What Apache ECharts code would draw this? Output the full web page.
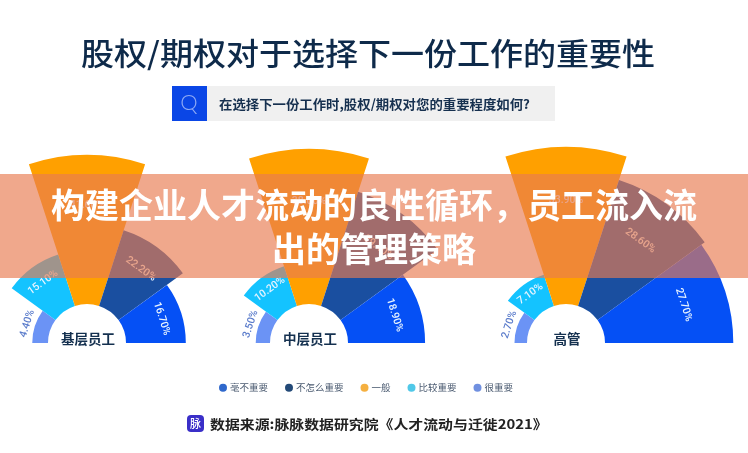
<!DOCTYPE html>
<html><head><meta charset="utf-8">
<style>html,body{margin:0;padding:0;background:#fff}#c{width:748px;height:453px}</style>
<script src="https://cdn.jsdelivr.net/npm/echarts@6/dist/echarts.min.js"></script>
</head><body><div id="c"></div>
<script>
const levels = ['很重要','比较重要','一般','不怎么重要','毫不重要'];
const legendOrder = ['毫不重要','不怎么重要','一般','比较重要','很重要'];
const groups = ['基层员工','中层员工','高管'];
const valuesJunior = [4.4,15.1,41.6,22.2,16.7];
const valuesMiddle = [3.5,10.2,38.0,29.4,18.9];
const valuesSenior = [2.7,7.1,33.9,28.6,27.7];
const allValues = [valuesJunior,valuesMiddle,valuesSenior];
const colors = ['#6B93F5','#14C3FF','#FFA000','#1A4FA0','#0550F5'];
const legendColors = {'毫不重要':'#2F68CC','不怎么重要':'#234A78','一般':'#F5B040','比较重要':'#50C8E8','很重要':'#7090E0'};
const rotationsDeg = [72,36,0,-36,-72];
const centersX = [87,309,566];
const outerR = [188,194,196];
const innerR = 39;
const font = '"Noto Sans CJK SC"';
const headline = ['构建企业人才流动的良性循环，员工流入流','出的管理策略'];
const mainTitle = '股权/期权对于选择下一份工作的重要性';
const question = '在选择下一份工作时,股权/期权对您的重要程度如何?';
const source = '数据来源:脉脉数据研究院《人才流动与迁徙2021》';

const polar=[],angleAxis=[],radiusAxis=[],series=[];
groups.forEach((g,gi)=>{
  polar.push({center:[centersX[gi],343],radius:[innerR,outerR[gi]]});
  angleAxis.push({polarIndex:gi,type:'category',data:levels,startAngle:180,endAngle:0,show:false,clockwise:true});
  radiusAxis.push({polarIndex:gi,type:'value',min:0,max:'dataMax',show:false});
  levels.forEach((lv,li)=>{
    const v=allValues[gi][li];
    const r=innerR+(outerR[gi]-innerR)*v/Math.max(...allValues[gi]);
    series.push({
      type:'bar',name:lv,coordinateSystem:'polar',polarIndex:gi,stack:'g'+gi,barWidth:'100%',
      data:levels.map((_,k)=>k===li?v:null),
      itemStyle:{color:colors[li]},
      label:{show:true,position:'insideEnd',distance:v<5?-8:(r-innerR)*0.34,rotate:rotationsDeg[li]*Math.PI/180,
        align:'center',verticalAlign:'middle',
        formatter:p=>p.value==null?'':p.value.toFixed(2)+'%',
        color:v<5?'#5B7CCB':'#E8F4FF',fontFamily:'Roboto',fontSize:10.5,fontWeight:500}
    });
  });
});

const graphic=[
  {type:'text',z:5,x:81,y:53,scaleX:1.065,style:{text:mainTitle,font:'500 31px '+font,fill:'#0E2A4A',textVerticalAlign:'middle'}},
  {type:'rect',z:5,shape:{x:172,y:86,width:383,height:35},style:{fill:'#F0F0F0'}},
  {type:'rect',z:5,shape:{x:172,y:86,width:35,height:35},style:{fill:'#0A46E6'}},
  {type:'text',z:6,x:189,y:103,style:{text:'Q',font:'300 22px Lato',fill:'#8FAAF5',textAlign:'center',textVerticalAlign:'middle'}},
  {type:'text',z:6,x:219,y:104,scaleX:1.03,style:{text:question,font:'700 13px '+font,fill:'#16304F',textVerticalAlign:'middle'}},
  {type:'rect',z:5,shape:{x:187,y:415,width:17,height:17,r:4},style:{fill:'#3A2FC8'}},
  {type:'text',z:6,x:195.5,y:423.5,style:{text:'脉',font:'500 11px '+font,fill:'#fff',textAlign:'center',textVerticalAlign:'middle'}},
  {type:'text',z:6,x:210,y:424,scaleX:1.145,style:{text:source,font:'700 13px '+font,fill:'#222',textVerticalAlign:'middle'}},
  {type:'rect',z:50,shape:{x:0,y:174,width:748,height:104},style:{fill:'rgba(232,123,81,0.66)'}},
  {type:'text',z:51,x:374,y:205,style:{text:headline[0],font:'700 34px '+font,fill:'#fff',textAlign:'center',textVerticalAlign:'middle'}},
  {type:'text',z:51,x:374,y:249,style:{text:headline[1],font:'700 34px '+font,fill:'#fff',textAlign:'center',textVerticalAlign:'middle'}}
];
groups.forEach((g,gi)=>graphic.push({type:'text',z:20,x:centersX[gi]+1,y:339,style:{text:g,font:'700 13.5px '+font,fill:'#14304F',textAlign:'center',textVerticalAlign:'middle'}}));

const chart=echarts.init(document.getElementById('c'),null,{renderer:'canvas'});
chart.setOption({
  animation:false,backgroundColor:'#fff',
  polar,angleAxis,radiusAxis,series,graphic,
  legend:{left:214,top:378,itemWidth:8,itemHeight:8,itemGap:17,icon:'circle',selectedMode:false,
    textStyle:{fontFamily:font,fontSize:9.5,color:'#4A5A70',padding:[0,0,0,-2]},
    data:legendOrder.map(n=>({name:n,itemStyle:{color:legendColors[n]}}))}
});
</script></body></html>
